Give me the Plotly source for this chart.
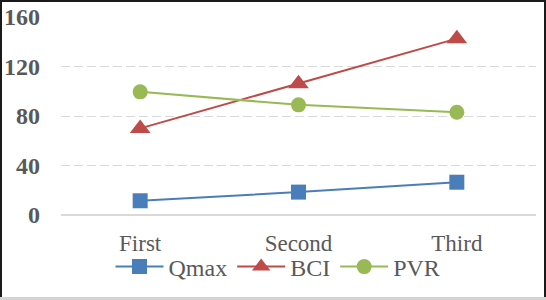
import plotly.graph_objects as go

categories = ["First", "Second", "Third"]
qmax = [11.5, 18.5, 26.5]
bci = [70, 106, 142.5]
pvr = [99.5, 89, 83]
yticks = [0, 40, 80, 120, 160]

W, H = 546, 300
L, R, T, B = 61, 10, 17, 85
pw = W - L - R
ph = H - T - B

fig = go.Figure()
fig.add_trace(go.Scatter(x=categories, y=qmax, name="Qmax", mode="lines+markers",
                         line=dict(color="#4A7EBB", width=2),
                         marker=dict(symbol="square", size=15, color="#4A7EBB")))
fig.add_trace(go.Scatter(x=categories, y=bci, name="BCI", mode="lines+markers",
                         line=dict(color="#BE4B48", width=2),
                         marker=dict(symbol="triangle-up", size=18, color="#BE4B48")))
fig.add_trace(go.Scatter(x=categories, y=pvr, name="PVR", mode="lines+markers",
                         line=dict(color="#98B954", width=2),
                         marker=dict(symbol="circle", size=15, color="#98B954")))

def px_x(p):
    return (p - L) / pw

def px_y(p):
    return (H - B - p) / ph

shapes = [
    dict(type="line", xref="paper", yref="paper", x0=px_x(0), x1=px_x(W), y0=px_y(1), y1=px_y(1),
         line=dict(color="#1a1a1a", width=2)),
    dict(type="line", xref="paper", yref="paper", x0=px_x(1), x1=px_x(1), y0=px_y(0), y1=px_y(H),
         line=dict(color="#1a1a1a", width=2)),
    dict(type="line", xref="paper", yref="paper", x0=px_x(W - 1), x1=px_x(W - 1), y0=px_y(0), y1=px_y(297),
         line=dict(color="#1a1a1a", width=2)),
    dict(type="line", xref="paper", yref="paper", x0=px_x(0), x1=px_x(W), y0=px_y(298.5), y1=px_y(298.5),
         line=dict(color="#d4d4d4", width=3)),
]

fig.update_layout(
    width=W, height=H,
    autosize=False,
    margin=dict(l=L, r=R, t=T, b=B, autoexpand=False),
    paper_bgcolor="white", plot_bgcolor="white",
    font=dict(family="Liberation Serif, Times New Roman, serif", color="#595959", size=23),
    showlegend=True,
    legend=dict(orientation="h", xref="container", yref="container",
                x=278 / W, xanchor="center", y=1 - 267 / H, yanchor="middle",
                font=dict(size=24, color="#595959"), itemwidth=48, tracegroupgap=0,
                bgcolor="rgba(0,0,0,0)"),
    xaxis=dict(type="category", range=[-0.5, 2.5], showgrid=False, showline=False, zeroline=False,
               automargin=False,
               ticks="", tickfont=dict(size=23, color="#595959"), ticklabelstandoff=12),
    yaxis=dict(range=[0, 160], tickvals=yticks, ticktext=[str(v) for v in yticks],
               automargin=False,
               showgrid=True, gridcolor="#d9d9d9", griddash="9px,4px", gridwidth=1,
               zeroline=True, zerolinecolor="#d9d9d9", zerolinewidth=1.5, showline=False,
               ticks="", tickfont=dict(size=24, color="#595959", family="Liberation Serif", weight="bold"),
               ticklabelstandoff=20),
    shapes=shapes,
)

post = "document.body.style.margin='0';document.body.style.overflow='hidden';"

fig.write_html("out.html", config={"displayModeBar": False}, post_script=post)
